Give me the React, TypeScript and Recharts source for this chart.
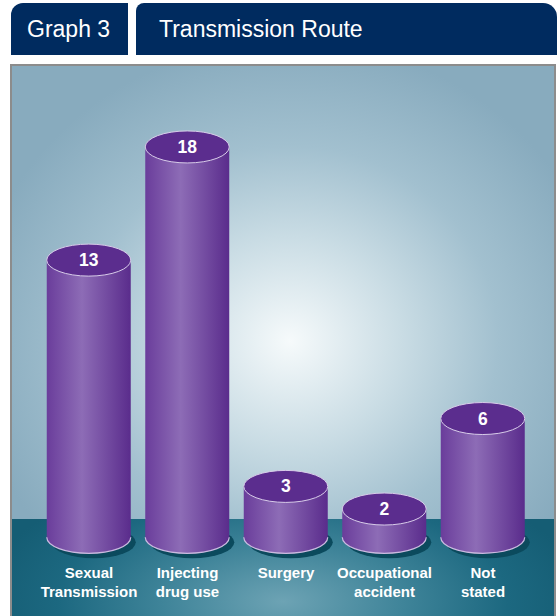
import React from "react";
import { BarChart, Bar, XAxis, YAxis } from "recharts";

const categories = ["Sexual Transmission", "Injecting drug use", "Surgery", "Occupational accident", "Not stated"];
const tickLines = [["Sexual", "Transmission"], ["Injecting", "drug use"], ["Surgery"], ["Occupational", "accident"], ["Not", "stated"]];
const cases = [13, 18, 3, 2, 6];

const data = categories.map((name, i) => ({ name, value: cases[i] }));

const FONT = '"Liberation Sans", Arial, Helvetica, sans-serif';
const RY = 16;

const Cylinder = (props: any) => {
  const { x, y, width, height, index, value } = props;
  const rx = width / 2;
  const cx = x + rx;
  const topY = y;
  const botY = y + height - 17;
  const gid = `cyl-${index}`;
  const v = Array.isArray(value) ? value[1] : value;
  return (
    <g>
      <defs>
        <linearGradient id={gid} x1="0" y1="0" x2="1" y2="0">
          <stop offset="0%" stopColor="#6a3d9b" />
          <stop offset="42%" stopColor="#8d6cb6" />
          <stop offset="100%" stopColor="#5a2c8c" />
        </linearGradient>
      </defs>
      <ellipse cx={cx + 5} cy={botY + 5} rx={rx} ry={RY} fill="#0b4a5d" />
      <path
        d={`M${x},${topY} L${x},${botY} A${rx},${RY} 0 0 0 ${x + width},${botY} L${x + width},${topY} Z`}
        fill={`url(#${gid})`}
      />
      <path
        d={`M${x},${botY} A${rx},${RY} 0 0 0 ${x + width},${botY}`}
        fill="none"
        stroke="#cbbbe0"
        strokeWidth={1.2}
      />
      <ellipse cx={cx} cy={topY} rx={rx} ry={RY} fill="#5b2d8e" stroke="#d8cce9" strokeWidth={1} />
      <text
        x={cx}
        y={topY + 6}
        textAnchor="middle"
        fill="#ffffff"
        fontFamily={FONT}
        fontWeight="bold"
        fontSize={17.5}
      >
        {v}
      </text>
    </g>
  );
};

const CategoryTick = (props: any) => {
  const { x, y, payload } = props;
  const lines = tickLines[payload.index] || [payload.value];
  return (
    <g>
      {lines.map((t: string, i: number) => (
        <text
          key={i}
          x={x}
          y={y + 24 + i * 19}
          textAnchor="middle"
          fill="#ffffff"
          fontFamily={FONT}
          fontWeight="bold"
          fontSize={15}
        >
          {t}
        </text>
      ))}
    </g>
  );
};

export default function App() {
  return (
    <div style={{ position: "absolute", left: 0, top: 0, width: 557, height: 616, overflow: "hidden", background: "#ffffff", fontFamily: FONT }}>
      {/* header tabs */}
      <div
        style={{
          position: "absolute", left: 11, top: 3, width: 117, height: 52,
          background: "#002b5f", borderTopLeftRadius: 12, color: "#fff",
          fontSize: 23, lineHeight: "52px", paddingLeft: 16, boxSizing: "border-box",
        }}
      >
        Graph 3
      </div>
      <div
        style={{
          position: "absolute", left: 136, top: 3, width: 421, height: 52,
          background: "#002b5f", borderTopLeftRadius: 8, borderTopRightRadius: 14, color: "#fff",
          fontSize: 23, lineHeight: "52px", paddingLeft: 23, boxSizing: "border-box",
        }}
      >
        Transmission Route
      </div>
      {/* panel */}
      <div
        style={{
          position: "absolute", left: 10, top: 64, width: 546, height: 560,
          border: "2px solid #8c8c8c", boxSizing: "border-box",
          background: "radial-gradient(ellipse 320px 300px at 278px 275px, #f6fafb 0%, #c9dce4 35%, #a2c0cf 65%, #88abbe 100%)",
        }}
      />
      <div
        style={{
          position: "absolute", left: 12, top: 519, width: 542, height: 97,
          background: "radial-gradient(ellipse 300px 140px at 50% 85%, #6da3b4 0%, #3f8499 40%, #1c6880 75%, #155d74 100%)",
        }}
      />
      <div style={{ position: "absolute", left: 0, top: 0 }}>
        <BarChart
          width={557}
          height={616}
          data={data}
          margin={{ top: 101.7, right: 24.75, bottom: 6.7, left: 39.75 }}
          barSize={84}
        >
          <XAxis
            dataKey="name"
            axisLine={false}
            tickLine={false}
            tickSize={0}
            tickMargin={0}
            height={55}
            interval={0}
            tick={<CategoryTick />}
          />
          <YAxis hide domain={[0, 20]} />
          <Bar dataKey="value" shape={<Cylinder />} isAnimationActive={false} />
        </BarChart>
      </div>
    </div>
  );
}
